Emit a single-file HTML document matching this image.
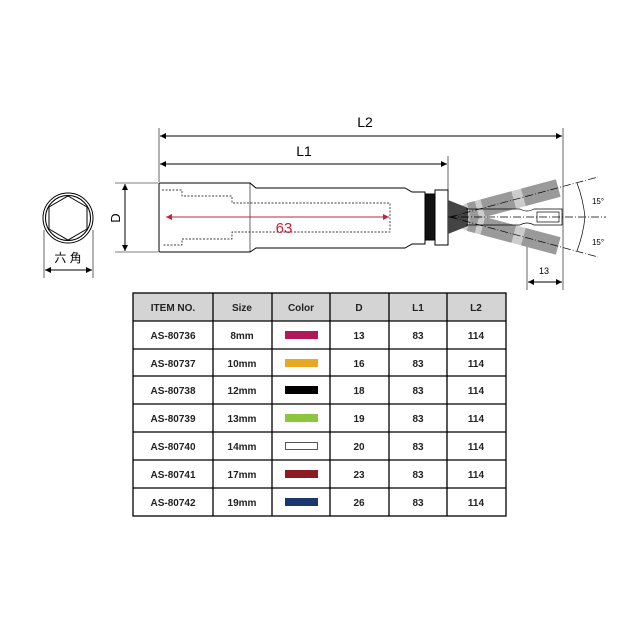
<!DOCTYPE html>
<html><head><meta charset="utf-8"><style>
body{margin:0;background:#fff;width:630px;height:630px;overflow:hidden}
svg{position:absolute;left:0;top:0}
text{font-family:"Liberation Sans","Noto Sans CJK JP",sans-serif}
</style></head><body>
<svg width="630" height="630" viewBox="0 0 630 630">
<defs>
<marker id="a" viewBox="0 0 10 10" refX="10" refY="5" markerWidth="10" markerHeight="6" orient="auto-start-reverse" markerUnits="userSpaceOnUse"><path d="M0,0L10,5L0,10z" fill="#000"/></marker>
<marker id="r" viewBox="0 0 10 10" refX="10" refY="5" markerWidth="10" markerHeight="6" orient="auto-start-reverse" markerUnits="userSpaceOnUse"><path d="M0,0L10,5L0,10z" fill="#c0243c"/></marker>
</defs>
<g stroke="#000" fill="none" stroke-width="1">
<circle cx="68" cy="218" r="25"/><circle cx="68" cy="218" r="22.5"/>
<polygon points="68,196 87,207 87,229 68,240 49,229 49,207"/>
<line x1="44" y1="230" x2="44" y2="278" stroke-width="0.6"/><line x1="93" y1="230" x2="93" y2="278" stroke-width="0.6"/>
<line x1="45" y1="270" x2="92" y2="270" marker-start="url(#a)" marker-end="url(#a)"/>
<line x1="115" y1="183" x2="158" y2="183" stroke-width="0.6"/><line x1="115" y1="252" x2="158" y2="252" stroke-width="0.6"/>
<line x1="125" y1="184" x2="125" y2="251" marker-start="url(#a)" marker-end="url(#a)"/>
<line x1="159" y1="128" x2="159" y2="182" stroke-width="0.6"/>
<line x1="448" y1="156" x2="448" y2="190" stroke-width="0.6"/>
<line x1="563" y1="128" x2="563" y2="290" stroke-width="0.6"/>
<line x1="527" y1="230" x2="527" y2="290" stroke-width="0.6"/>
<line x1="160" y1="136" x2="562" y2="136" marker-start="url(#a)" marker-end="url(#a)"/>
<line x1="160" y1="164" x2="447" y2="164" marker-start="url(#a)" marker-end="url(#a)"/>
<line x1="528" y1="282" x2="562" y2="282" marker-start="url(#a)" marker-end="url(#a)"/>
<path d="M160,183 H250 L256,188 H405 L412,192 H425 V244 H412 L405,248 H256 L250,252 H160 Q159,252 159,251 V184 Q159,183 160,183Z"/>
<line x1="250" y1="183" x2="250" y2="252" stroke-width="0.6"/>
<rect x="425" y="194" width="10" height="46" fill="#111"/>
<rect x="435" y="190" width="13" height="55" fill="#fff"/>
<path d="M162,190 H182 V196 H232 V203 H390 V232 H232 V239 H182 V245 H162" stroke-dasharray="2,1.5" stroke-width="0.7"/>
<line x1="166" y1="217" x2="389" y2="217" stroke="#c0243c" marker-start="url(#r)" marker-end="url(#r)"/>
</g>
<g transform="rotate(-15 450 217)" fill="#9a9a9a">
<path d="M452,211 L470,208 H562 V226 H470 L452,223Z" opacity="0.5"/>
<rect x="470" y="208" width="8" height="18"/>
<rect x="484" y="208" width="32" height="18"/><rect x="526" y="208" width="36" height="18"/>
</g>
<g transform="rotate(15 450 217)" fill="#9a9a9a">
<path d="M452,211 L470,208 H562 V226 H470 L452,223Z" opacity="0.5"/>
<rect x="470" y="208" width="8" height="18"/>
<rect x="484" y="208" width="32" height="18"/><rect x="526" y="208" width="36" height="18"/>
</g>
<polygon points="448,200 468,208 468,226 448,234" fill="#444"/>
<g stroke="#000" fill="none" stroke-width="0.7">
<path d="M466,209 H520 Q527,213 534,209 H562 V225 H534 Q527,221 520,225 H466"/>
<rect x="537" y="212" width="22" height="10"/>
<line x1="448" y1="217" x2="606" y2="217" stroke-dasharray="8,2,1,2"/>
<line x1="450" y1="217" x2="598" y2="177" stroke-dasharray="8,2,1,2"/>
<line x1="450" y1="217" x2="598" y2="257" stroke-dasharray="8,2,1,2"/>
<path d="M577,183 A135,135 0 0 1 585,217 A135,135 0 0 1 577,251"/>
</g>
<g font-size="14" text-anchor="middle">
<text x="365" y="127">L2</text>
<text x="304" y="156">L1</text>
<text x="284" y="233" fill="#c0243c" font-size="15">63</text>
<text x="68" y="262" font-size="12">六 角</text>
<text x="120" y="218" transform="rotate(-90 120 218)" font-size="13">D</text>
<text x="598" y="204" font-size="8">15°</text>
<text x="598" y="245" font-size="8">15°</text>
<text x="544" y="274" font-size="9">13</text>
</g>
<rect x="133" y="293" width="373" height="28" fill="#d4d4d4"/>
<g stroke="#000" stroke-width="1.3" fill="none">
<rect x="133" y="293" width="373" height="223"/>
<line x1="133" y1="321" x2="506" y2="321"/><line x1="133" y1="349" x2="506" y2="349"/>
<line x1="133" y1="376" x2="506" y2="376"/><line x1="133" y1="404" x2="506" y2="404"/>
<line x1="133" y1="432" x2="506" y2="432"/><line x1="133" y1="460" x2="506" y2="460"/>
<line x1="133" y1="488" x2="506" y2="488"/>
<line x1="213" y1="293" x2="213" y2="516"/><line x1="272" y1="293" x2="272" y2="516"/>
<line x1="330" y1="293" x2="330" y2="516"/><line x1="389" y1="293" x2="389" y2="516"/>
<line x1="447" y1="293" x2="447" y2="516"/>
</g>
<g font-size="10" text-anchor="middle" font-weight="bold" fill="#222">
<text x="173" y="311">ITEM NO.</text><text x="242" y="311">Size</text><text x="301" y="311">Color</text><text x="359" y="311">D</text><text x="418" y="311">L1</text><text x="476" y="311">L2</text>
<text x="173" y="339">AS-80736</text><text x="242" y="339">8mm</text><text x="359" y="339">13</text><text x="418" y="339">83</text><text x="476" y="339">114</text>
<text x="173" y="367">AS-80737</text><text x="242" y="367">10mm</text><text x="359" y="367">16</text><text x="418" y="367">83</text><text x="476" y="367">114</text>
<text x="173" y="394">AS-80738</text><text x="242" y="394">12mm</text><text x="359" y="394">18</text><text x="418" y="394">83</text><text x="476" y="394">114</text>
<text x="173" y="422">AS-80739</text><text x="242" y="422">13mm</text><text x="359" y="422">19</text><text x="418" y="422">83</text><text x="476" y="422">114</text>
<text x="173" y="450">AS-80740</text><text x="242" y="450">14mm</text><text x="359" y="450">20</text><text x="418" y="450">83</text><text x="476" y="450">114</text>
<text x="173" y="478">AS-80741</text><text x="242" y="478">17mm</text><text x="359" y="478">23</text><text x="418" y="478">83</text><text x="476" y="478">114</text>
<text x="173" y="506">AS-80742</text><text x="242" y="506">19mm</text><text x="359" y="506">26</text><text x="418" y="506">83</text><text x="476" y="506">114</text>
</g>
<rect x="285" y="331" width="33" height="8" fill="#b0185a"/>
<rect x="285" y="359" width="33" height="8" fill="#e8a820"/>
<rect x="285" y="386" width="33" height="8" fill="#000"/>
<rect x="285" y="414" width="33" height="8" fill="#8cc63e"/>
<rect x="285.5" y="442.5" width="32" height="7" fill="#fff" stroke="#555"/>
<rect x="285" y="470" width="33" height="8" fill="#8c1a22"/>
<rect x="285" y="498" width="33" height="8" fill="#1a3670"/>
</svg>
</body></html>
